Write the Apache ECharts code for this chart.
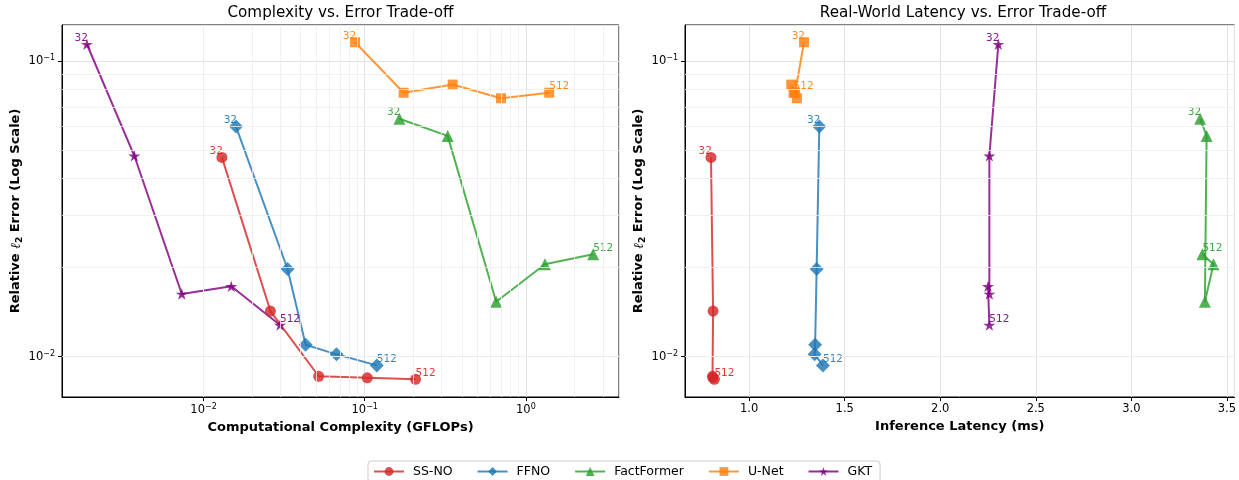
<!DOCTYPE html>
<html>
<head>
<meta charset="utf-8">
<script src="https://cdn.jsdelivr.net/npm/echarts@6/dist/echarts.min.js"></script>
<style>
html,body{margin:0;padding:0;background:#fff;}
#chart{width:1239px;height:480px;}
</style>
</head>
<body>
<div id="chart"></div>
<script>
// ---- data ----
const resolutions = [32, 64, 128, 256, 512];
const methods = ['SS-NO', 'FFNO', 'FactFormer', 'U-Net', 'GKT'];

const ssnoGflops   = [0.0130, 0.0260, 0.0518, 0.1037, 0.2067];
const ssnoLatency  = [0.800, 0.811, 0.808, 0.810, 0.818];
const ssnoError    = [0.0472, 0.01427, 0.00859, 0.00849, 0.00839];

const ffnoGflops   = [0.0159, 0.0332, 0.0430, 0.0668, 0.1188];
const ffnoLatency  = [1.367, 1.353, 1.345, 1.342, 1.386];
const ffnoError    = [0.0600, 0.0198, 0.01098, 0.01019, 0.00935];

const factGflops   = [0.164, 0.327, 0.654, 1.312, 2.612];
const factLatency  = [3.360, 3.394, 3.385, 3.430, 3.372];
const factError    = [0.0638, 0.0558, 0.01535, 0.02054, 0.0222];

const unetGflops   = [0.0871, 0.1744, 0.3513, 0.7006, 1.395];
const unetLatency  = [1.287, 1.240, 1.220, 1.250, 1.232];
const unetError    = [0.1157, 0.0781, 0.0832, 0.0748, 0.0781];

const gktGflops    = [0.00189, 0.00372, 0.00733, 0.01486, 0.0298];
const gktLatency   = [2.304, 2.257, 2.257, 2.250, 2.257];
const gktError     = [0.1139, 0.0478, 0.0163, 0.0173, 0.0128];

// ---- styling ----
const FONT = 'DejaVu Sans';
const colors = ['#d62728', '#1f77b4', '#2ca02c', '#ff7f0e', '#800080'];

function starPath() {
  let d = '';
  for (let i = 0; i < 10; i++) {
    const r = (i % 2) ? 0.382 : 1;
    const a = (-90 + i * 36) * Math.PI / 180;
    const x = (1 + r * Math.cos(a)) * 50, y = (1 + r * Math.sin(a)) * 50;
    d += (i === 0 ? 'M' : 'L') + x.toFixed(2) + ' ' + y.toFixed(2) + ' ';
  }
  return 'path://' + d + 'Z';
}
const symbols = ['circle', 'diamond', 'triangle', 'rect', starPath()];
const symbolSizes = [11, 14, 12, 10, 12];

const gflopsList = [ssnoGflops, ffnoGflops, factGflops, unetGflops, gktGflops];
const latencyList = [ssnoLatency, ffnoLatency, factLatency, unetLatency, gktLatency];
const errorList = [ssnoError, ffnoError, factError, unetError, gktError];

const yMin = 0.00731, yMax = 0.1323;
const x1Min = 0.001324, x1Max = 3.78;
const x2Min = 0.664, x2Max = 3.54;

function powLabel(v) {
  const l = Math.log10(v);
  const r = Math.round(l);
  if (Math.abs(l - r) > 1e-6) return '';
  return '{b|10}{s|' + (r < 0 ? '\u2212' + (-r) : r) + '}';
}
const powRich = {
  b: {fontSize: 11.5, fontFamily: FONT, color: '#000', lineHeight: 14},
  s: {fontSize: 8, fontFamily: FONT, color: '#000', lineHeight: 8, verticalAlign: 'top'}
};

function minorValues(lo, hi) {
  const out = [];
  for (let k = Math.floor(Math.log10(lo)); k <= Math.ceil(Math.log10(hi)); k++) {
    for (let m = 2; m <= 9; m++) {
      const v = m * Math.pow(10, k);
      if (v > lo && v < hi) out.push(v);
    }
  }
  return out;
}

const nameStyle = {fontFamily: FONT, fontSize: 13, fontWeight: 'bold', color: '#000'};
const yNameStyle = {
  fontFamily: FONT, fontSize: 13, fontWeight: 'bold', color: '#000',
  rich: {
    t: {fontFamily: FONT, fontSize: 13, fontWeight: 'bold', color: '#000', lineHeight: 16},
    i: {fontFamily: 'DejaVu Serif', fontSize: 13.5, fontStyle: 'italic', color: '#000', lineHeight: 16},
    u: {fontFamily: FONT, fontSize: 9, color: '#000', lineHeight: 9, verticalAlign: 'bottom'}
  }
};
const yName = '{t|Relative }{i|\u2113}{u|2}{t| Error (Log Scale)}';

const majorSplit = {show: true, lineStyle: {color: '#e2e2e2', width: 1}};
const axisLineStyle = {show: true, lineStyle: {color: '#000', width: 1}};
const tickStyle = {show: true, length: 4, lineStyle: {color: '#000'}};

function yAxisCfg(gi) {
  return {
    type: 'log', logBase: 10, gridIndex: gi, min: yMin, max: yMax,
    name: yName, nameLocation: 'middle', nameGap: 38, nameRotate: 90,
    nameTextStyle: yNameStyle,
    axisLine: axisLineStyle, axisTick: tickStyle,
    axisLabel: {formatter: powLabel, rich: powRich, margin: 7, showMinLabel: false, showMaxLabel: false},
    splitLine: majorSplit, minorTick: {show: false}
  };
}

const series = [];
// minor grid lines (drawn first, underneath)
function minorLineSeries(xi, yi, xVals, yVals) {
  const data = [];
  xVals.forEach(v => data.push({xAxis: v}));
  yVals.forEach(v => data.push({yAxis: v}));
  return {
    type: 'line', xAxisIndex: xi, yAxisIndex: yi, data: [], z: 1,
    silent: true,
    markLine: {
      silent: true, symbol: ['none', 'none'], label: {show: false}, animation: false,
      lineStyle: {color: '#eeeeee', width: 0.8, type: 'solid'},
      emphasis: {disabled: true},
      data: data
    }
  };
}
series.push(minorLineSeries(0, 0, minorValues(x1Min, x1Max), minorValues(yMin, yMax)));
series.push(minorLineSeries(1, 1, [], minorValues(yMin, yMax)));

function buildData(xs, ys, color) {
  const last = resolutions.length - 1;
  return resolutions.map((r, i) => {
    const item = {value: [xs[i], ys[i]]};
    if (i === 0 || i === last) {
      item.label = {
        show: true, formatter: String(r), position: ['50%', '50%'],
        align: i === 0 ? 'right' : 'left', verticalAlign: 'middle',
        offset: [i === 0 ? 1 : 0, -6],
        color: color, fontSize: 10.5, fontFamily: FONT, opacity: 0.9
      };
    }
    return item;
  });
}

methods.forEach((m, k) => {
  const base = {
    name: m, type: 'line', symbol: symbols[k], symbolSize: symbolSizes[k], symbolKeepAspect: true,
    showSymbol: true, z: 3,
    itemStyle: {color: colors[k], opacity: 0.82, borderWidth: 0},
    lineStyle: {color: colors[k], width: 2, opacity: 0.82},
    label: {show: false},
    emphasis: {disabled: true},
    animation: false
  };
  series.push(Object.assign({}, base, {xAxisIndex: 0, yAxisIndex: 0, data: buildData(gflopsList[k], errorList[k], colors[k])}));
  series.push(Object.assign({}, base, {xAxisIndex: 1, yAxisIndex: 1, data: buildData(latencyList[k], errorList[k], colors[k])}));
});

const option = {
  animation: false,
  backgroundColor: '#fff',
  textStyle: {fontFamily: FONT},
  title: [
    {text: 'Complexity vs. Error Trade-off', left: 340.5, top: 6, textAlign: 'center', padding: 0,
     textStyle: {fontFamily: FONT, fontSize: 15.2, fontWeight: 'normal', color: '#000'}},
    {text: 'Real-World Latency vs. Error Trade-off', left: 963, top: 6, textAlign: 'center', padding: 0,
     textStyle: {fontFamily: FONT, fontSize: 15.2, fontWeight: 'normal', color: '#000'}}
  ],
  legend: {
    data: methods, left: 368, top: 461, orient: 'horizontal',
    itemWidth: 30, itemHeight: 11, itemGap: 24,
    padding: [4, 8, 4, 5],
    borderColor: '#cccccc', borderWidth: 1, borderRadius: 3,
    textStyle: {fontFamily: FONT, fontSize: 12.5, color: '#000', padding: [0, 0, 0, 4]}
  },
  grid: [
    {left: 62, top: 25, width: 557, height: 372, show: true, borderColor: '#000', borderWidth: 1, backgroundColor: 'transparent'},
    {left: 685, top: 25, width: 556, height: 372, show: true, borderColor: '#000', borderWidth: 1, backgroundColor: 'transparent'}
  ],
  xAxis: [
    {
      type: 'log', logBase: 10, gridIndex: 0, min: x1Min, max: x1Max,
      name: 'Computational Complexity (GFLOPs)', nameLocation: 'middle', nameGap: 22,
      nameTextStyle: nameStyle,
      axisLine: axisLineStyle, axisTick: tickStyle,
      axisLabel: {formatter: powLabel, rich: powRich, margin: 6, showMinLabel: false, showMaxLabel: false},
      splitLine: majorSplit, minorTick: {show: false}
    },
    {
      type: 'value', gridIndex: 1, min: x2Min, max: x2Max,
      name: 'Inference Latency (ms)', nameLocation: 'middle', nameGap: 22,
      nameTextStyle: nameStyle,
      axisLine: axisLineStyle, axisTick: tickStyle,
      axisLabel: {formatter: v => v.toFixed(1), fontFamily: FONT, fontSize: 11.5, color: '#000', margin: 6,
                  showMinLabel: false, showMaxLabel: false},
      splitLine: majorSplit
    }
  ],
  yAxis: [yAxisCfg(0), yAxisCfg(1)],
  series: series
};

const chart = echarts.init(document.getElementById('chart'), null, {renderer: 'canvas'});
chart.setOption(option);
</script>
</body>
</html>
